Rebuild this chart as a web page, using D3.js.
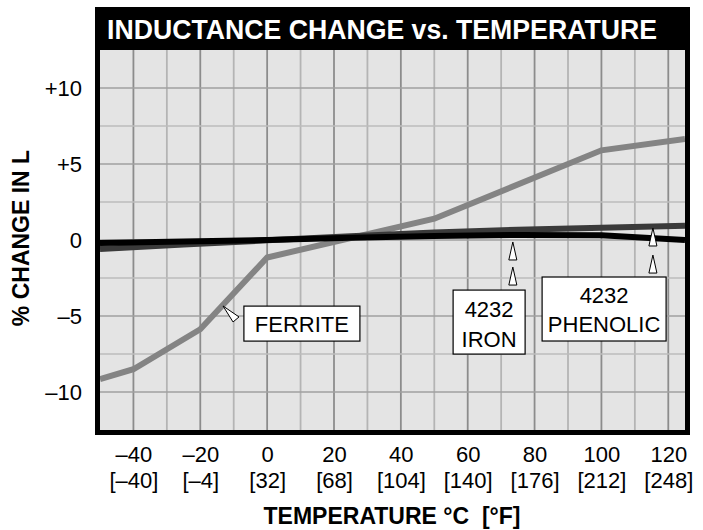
<!DOCTYPE html>
<html><head><meta charset="utf-8">
<script src="https://cdn.jsdelivr.net/npm/d3@7"></script>
<style>
body{margin:0;background:#fff;}
svg{display:block;font-family:"Liberation Sans",Arial,Helvetica,sans-serif;}
</style>
</head><body>
<svg id="chart" width="703" height="530"></svg>
<script>
// ---- data ----
const tempC = [-40, -20, 0, 20, 40, 60, 80, 100, 120];
const tempCLabels = ["–40", "–20", "0", "20", "40", "60", "80", "100", "120"];
const tempFLabels = ["[–40]", "[–4]", "[32]", "[68]", "[104]", "[140]", "[176]", "[212]", "[248]"];
const pctTicks = [10, 5, 0, -5, -10];
const pctLabels = ["+10", "+5", "0", "–5", "–10"];

const ferriteT = [-50, -40, -20, 0, 50, 100, 125];
const ferriteV = [-9.15, -8.5, -5.87, -1.15, 1.4, 5.9, 6.65];
const ironT = [-50, -25, 0, 25, 50, 75, 100, 125];
const ironV = [-0.6, -0.3, -0.02, 0.25, 0.5, 0.68, 0.8, 0.93];
const phenolicT = [-50, -25, 0, 25, 50, 75, 100, 125];
const phenolicV = [-0.2, -0.1, 0, 0.15, 0.27, 0.33, 0.32, 0.0];

const title = "INDUCTANCE CHANGE vs. TEMPERATURE";
const yTitle = "% CHANGE IN L";
const xTitle = "TEMPERATURE °C \u00A0[°F]";

// ---- layout ----
const svg = d3.select("#chart");
const L = 100, R = 685, T = 50, B = 430;
const x = d3.scaleLinear().domain([-50, 125]).range([L, R]);
const y = d3.scaleLinear().domain([-12.5, 12.5]).range([B, T]);

// background
svg.append("rect").attr("x", L).attr("y", T).attr("width", R - L).attr("height", B - T).attr("fill", "#e4e4e4");

// grid
const vGrid = d3.range(-40, 121, 10);
svg.append("g").selectAll("line").data(vGrid).join("line")
  .attr("x1", d => x(d)).attr("x2", d => x(d)).attr("y1", T).attr("y2", B)
  .attr("stroke", d => d % 20 === 0 ? "#8c8c8c" : "#b4b4b4").attr("stroke-width", 1.8);
const hGrid = d3.range(-10, 10.1, 2.5);
svg.append("g").selectAll("line").data(hGrid).join("line")
  .attr("x1", L).attr("x2", R).attr("y1", d => y(d)).attr("y2", d => y(d))
  .attr("stroke", d => d % 5 === 0 ? "#a0a0a0" : "#bdbdbd").attr("stroke-width", 1.6);

// clip
svg.append("clipPath").attr("id", "clip").append("rect")
  .attr("x", L).attr("y", T).attr("width", R - L).attr("height", B - T);

const line = d3.line().x(d => x(d[0])).y(d => y(d[1]));
const series = [
  {t: ferriteT, v: ferriteV, color: "#848484"},
  {t: ironT, v: ironV, color: "#3a3a3a"},
  {t: phenolicT, v: phenolicV, color: "#000000"}
];
const lg = svg.append("g").attr("clip-path", "url(#clip)");
series.forEach(s => {
  lg.append("path").datum(s.t.map((t, i) => [t, s.v[i]]))
    .attr("d", line).attr("fill", "none").attr("stroke", s.color)
    .attr("stroke-width", 6).attr("stroke-linejoin", "miter");
});

// annotation pointers (triangles)
const ag = svg.append("g");
function upTri(t, v) {
  const px = x(t), py = y(v);
  ag.append("path").attr("d", `M${px},${py}L${px - 4},${py + 18}L${px + 4},${py + 18}Z`)
    .attr("fill", "#fff").attr("stroke", "#000").attr("stroke-width", 1);
}
upTri(73.5, -0.13); upTri(73.5, -1.78);
upTri(115.4, 0.79); upTri(115.4, -0.99);
{
  const px = x(-13.2), py = y(-4.34);
  ag.append("path").attr("d", `M${px},${py}L${px + 10},${py + 16}L${px + 16},${py + 11}Z`)
    .attr("fill", "#fff").attr("stroke", "#000").attr("stroke-width", 1);
}
function box(t, v, w, h, lines, offs) {
  const cx = x(t), cy = y(v);
  ag.append("rect").attr("x", cx - w / 2).attr("y", cy - h / 2).attr("width", w).attr("height", h)
    .attr("fill", "#fff").attr("stroke", "#000").attr("stroke-width", 1.2);
  lines.forEach((s, i) => {
    ag.append("text").attr("x", cx).attr("y", cy + offs[i]).attr("text-anchor", "middle")
      .attr("font-size", 22).attr("fill", "#000").text(s);
  });
}
box(10.4, -5.5, 116, 35, ["FERRITE"], [8]);
box(66.4, -5.4, 72, 64, ["4232", "IRON"], [-5, 25]);
box(100.8, -4.54, 124, 64, ["4232", "PHENOLIC"], [-6, 23]);

// frame and title bar
svg.append("rect").attr("x", 95).attr("y", 7).attr("width", 595).attr("height", 43).attr("fill", "#000");
svg.append("rect").attr("x", 97.5).attr("y", 9.5).attr("width", 590).attr("height", 423)
  .attr("fill", "none").attr("stroke", "#000").attr("stroke-width", 5);
svg.append("text").attr("x", 107).attr("y", 38.5).attr("font-size", 27).attr("font-weight", "bold")
  .attr("fill", "#fff").attr("textLength", 550).attr("lengthAdjust", "spacingAndGlyphs").text(title);

// y axis
const yAxis = d3.axisLeft(y).tickValues(pctTicks).tickSize(0).tickPadding(0)
  .tickFormat((d, i) => pctLabels[i]);
const yg = svg.append("g").attr("transform", "translate(82,0)").call(yAxis);
yg.select(".domain").remove();
yg.selectAll("text").attr("font-size", 22).attr("font-family", null).attr("fill", "#000").attr("dy", "0.36em");

// x axis
const xAxis = d3.axisBottom(x).tickValues(tempC).tickSize(0).tickPadding(0)
  .tickFormat((d, i) => tempCLabels[i]);
const xg = svg.append("g").attr("transform", "translate(0,462)").call(xAxis);
xg.select(".domain").remove();
xg.selectAll("text").attr("font-size", 22).attr("font-family", null).attr("fill", "#000").attr("dy", 0).attr("y", 0);
xg.selectAll(".tick").append("text").attr("y", 26).attr("text-anchor", "middle")
  .attr("font-size", 22).attr("fill", "#000").text((d, i) => tempFLabels[i]);

// axis titles
svg.append("text").attr("transform", "translate(29,238) rotate(-90)").attr("text-anchor", "middle")
  .attr("font-size", 23).attr("font-weight", "bold").attr("fill", "#000").text(yTitle);
svg.append("text").attr("x", 392).attr("y", 524).attr("text-anchor", "middle")
  .attr("font-size", 23).attr("font-weight", "bold").attr("fill", "#000").text(xTitle);
</script>
</body></html>
